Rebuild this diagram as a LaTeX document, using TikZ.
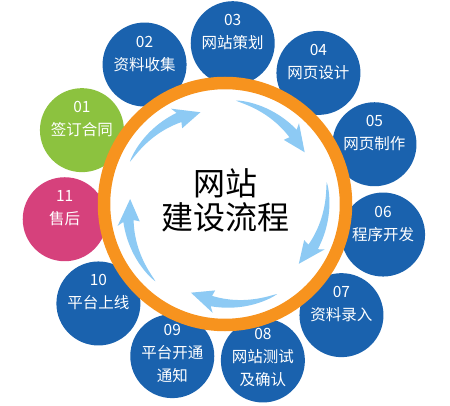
\documentclass[tikz,border=0pt]{standalone}
\usepackage{fontspec}
\setmainfont{Noto Sans CJK SC}
\definecolor{bubblue}{HTML}{1A62AE}
\definecolor{bubgreen}{HTML}{8CC23F}
\definecolor{bubpink}{HTML}{D6417C}
\definecolor{ringorange}{HTML}{F7931E}
\definecolor{arrowblue}{HTML}{8DCAF4}
\tikzset{
  bub/.style={circle, minimum size=84pt, inner sep=0pt, draw=none},
  bubtext/.style={text=white, font=\fontsize{15.5}{23}\selectfont, align=center, inner sep=0pt},
  titletext/.style={font=\fontsize{32}{34}\selectfont, text=black, inner sep=0pt},
}
\begin{document}
\begin{tikzpicture}[x=1pt,y=1pt]
\useasboundingbox (0,0) rectangle (450,-406);
\begin{scope}[shift={(225,-204)}]
  % bubbles
  \foreach \i/\col/\txt/\dy in {
      1/bubgreen/{01\\签订合同}/11,
      2/bubblue/{02\\资料收集}/11,
      3/bubblue/{03\\网站策划}/11,
      4/bubblue/{04\\网页设计}/11,
      5/bubblue/{05\\网页制作}/11,
      6/bubblue/{06\\程序开发}/11,
      7/bubblue/{07\\资料录入}/11,
      8/bubblue/{08\\网站测试\\及确认}/2.5,
      9/bubblue/{09\\平台开通\\通知}/2.5,
      10/bubblue/{10\\平台上线}/11,
      11/bubpink/{11\\售后}/11} {
    \pgfmathsetmacro\ang{152.7-32.727*(\i-1)}
    \node[bub, fill=\col] (c\i) at (\ang:161) {};
    \node[bubtext] (t\i) at ([yshift=\dy]c\i.center) {\txt};
  }
  % ring
  \node[circle, minimum size=242pt, inner sep=0pt, draw=ringorange, line width=12.5pt, fill=white] (ring) at (0,0) {};
  % arrows
  \foreach \k in {0,...,4} {
    \pgfmathsetmacro\aa{156-72*\k}
    \fill[arrowblue]
      plot[domain=0:1, samples=25, variable=\s] ({\aa-38*\s}:{104-6*\s+5.2*(\s+0.0001)^0.7})
      -- ({\aa-36.5}:{109.5})
      -- ({\aa-51}:{95})
      -- ({\aa-36.5}:{87})
      -- plot[domain=0:1, samples=25, variable=\s] ({\aa-38*(1-\s)}:{104-6*(1-\s)-5.2*(1.0001-\s)^0.7})
      -- cycle;
  }
  % title
  \node[titletext] (title1) at (0,21) {网站};
  \node[titletext] (title2) at (0,-13) {建设流程};
\end{scope}
\end{tikzpicture}
\end{document}
